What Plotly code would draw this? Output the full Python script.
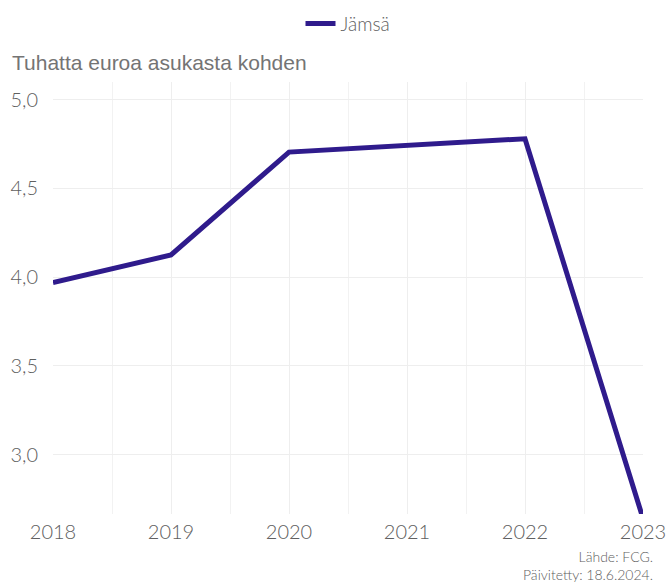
import plotly.graph_objects as go

years = [2018, 2019, 2020, 2021, 2022, 2023]
jamsa = [3.97, 4.125, 4.705, 4.74, 4.78, 2.64]
series_name = "Jämsä"
y_title = "Tuhatta euroa asukasta kohden"
source_lines = ["Lähde: FCG.", "Päivitetty: 18.6.2024."]

tick_font = dict(family="Lato, sans-serif", size=20, weight=300, color="#606060")

fig = go.Figure()
fig.add_trace(go.Scatter(
    x=years, y=jamsa, name=series_name, mode="lines",
    line=dict(color="#2f1b8c", width=5),
))

fig.update_layout(
    width=668, height=583,
    margin=dict(l=53, r=25, t=82, b=69),
    plot_bgcolor="white", paper_bgcolor="white",
    showlegend=True,
    separators=",.",
    legend=dict(orientation="h", x=0.5, xanchor="center", y=0.992, yanchor="top",
                yref="container",
                font=dict(family="Lato, sans-serif", size=19, weight=300, color="#606060")),
    xaxis=dict(
        range=[2018, 2023], tickmode="linear", tick0=2018, dtick=1,
        showgrid=True, gridcolor="#eeeeee", gridwidth=1,
        minor=dict(dtick=0.5, tick0=2018, showgrid=True, gridcolor="#f2f2f2"),
        showline=False, zeroline=False, ticks="", ticklabelstandoff=4,
        tickfont=tick_font, automargin=False,
    ),
    yaxis=dict(
        range=[2.665, 5.1], tickmode="linear", tick0=3.0, dtick=0.5,
        tickformat=".1f",
        showgrid=True, gridcolor="#eeeeee", gridwidth=1,
        showline=False, zeroline=False, ticks="", ticklabelstandoff=14,
        tickfont=tick_font, automargin=False,
    ),
)

fig.add_annotation(
    text=y_title, xref="paper", yref="paper", x=-43/590, y=1.0, xanchor="left", yanchor="bottom",
    yshift=6, showarrow=False,
    font=dict(family="Liberation Sans, Arial, sans-serif", size=21, color="#747474"),
)
fig.add_annotation(
    text="<br>".join(source_lines), xref="paper", yref="paper", x=1.02, y=-0.075,
    xanchor="right", yanchor="top", align="right", showarrow=False,
    font=dict(family="Lato, sans-serif", size=14, weight=300, color="#606060"),
)

fig.write_html("out.html")
